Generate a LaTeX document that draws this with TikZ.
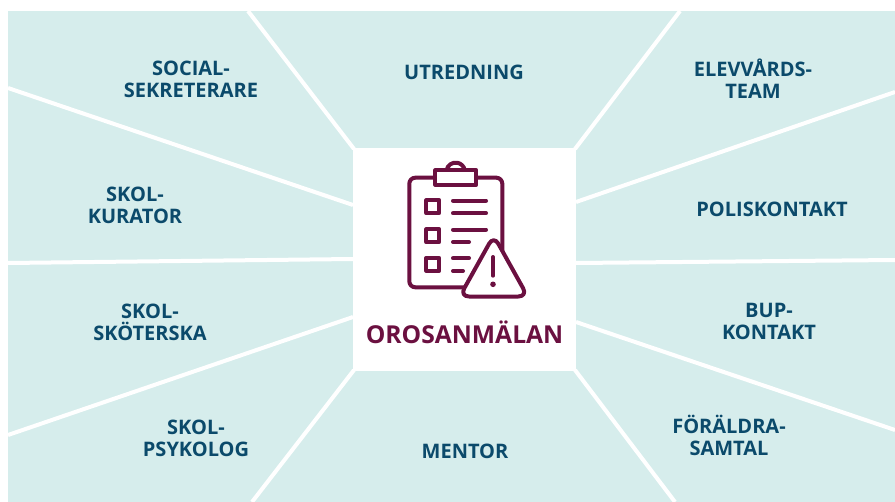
\documentclass[tikz,border=0pt]{standalone}
\usepackage{fontspec}
\setmainfont{Open Sans}
\definecolor{sectorbg}{HTML}{D6EDEC}
\definecolor{labelblue}{HTML}{0B4A6B}
\definecolor{winered}{HTML}{6B1040}

\begin{document}
\begin{tikzpicture}[x=0.75pt,y=-0.75pt,
  side node/.style={align=center,inner sep=0pt,text=labelblue,
    font=\fontsize{15}{16.5}\selectfont\bfseries},
  main node/.style={rectangle,fill=white,minimum width=167.25pt,minimum height=167.25pt},
  spoke/.style={draw=white,line width=3pt},
  icon line/.style={draw=winered,line width=3pt,line cap=round,line join=round}]
  \useasboundingbox (0,0) rectangle (895,502);
  \fill[sectorbg] (8,11) rectangle (895,502);

  \node[main node] (main) at (464.5,259.5) {};

  % spokes, clockwise from top left
  \coordinate (a1) at (248,11);    \coordinate (b1) at (354,149);
  \coordinate (a2) at (680,11);    \coordinate (b2) at (575,149);
  \coordinate (a3) at (895,92);    \coordinate (b3) at (576,202);
  \coordinate (a4) at (895,260);   \coordinate (b4) at (576,263);
  \coordinate (a5) at (895,430);   \coordinate (b5) at (576,322);
  \coordinate (a6) at (675,502);   \coordinate (b6) at (575,370);
  \coordinate (a7) at (252,502);   \coordinate (b7) at (354,370);
  \coordinate (a8) at (8,435);     \coordinate (b8) at (353,317);
  \coordinate (a9) at (8,263);     \coordinate (b9) at (353,259);
  \coordinate (a10) at (8,88);     \coordinate (b10) at (353,205);
  \foreach \i in {1,...,10}
    \draw[spoke] (a\i) -- (b\i);

  % clipboard
  \draw[icon line,rounded corners=4.5pt] (409.3,177.7) rectangle (502.3,287.3);
  \draw[icon line,fill=white] (446.5,170.3) arc[start angle=190,end angle=350,radius=9.3];
  \draw[icon line,fill=white] (435.3,170.3) rectangle (476.3,184.7);
  \draw[icon line,line cap=butt] (426.3,200.3) rectangle (439.3,213);
  \draw[icon line,line cap=butt] (426.3,229.3) rectangle (439.3,242);
  \draw[icon line,line cap=butt] (426.3,258) rectangle (439.3,270.7);
  \draw[icon line] (453,200.7) -- (486,200.7);
  \draw[icon line] (453,213.3) -- (486,213.3);
  \draw[icon line] (453,229.7) -- (486,229.7);
  \draw[icon line] (453,242) -- (469,242);
  \draw[icon line] (453,258.3) -- (469,258.3);
  \draw[icon line] (453,271) -- (463,271);

  % warning sign
  \draw[icon line,fill=white,rounded corners=7pt] (493.7,235.5) -- (527.7,296.5) -- (459.7,296.5) -- cycle;
  \draw[icon line] (493,257) -- (493,275.7);
  \fill[winered] (493,284.3) circle[radius=2.8];

  \node[inner sep=0pt,text=winered,font=\fontsize{18.5}{20}\selectfont\bfseries] (title) at (464.5,332) {OROSANMÄLAN};

  \node[side node] (1) at (191,79) {SOCIAL-\\SEKRETERARE};
  \node[side node] (2) at (464,72) {UTREDNING};
  \node[side node] (3) at (753,79) {ELEVVÅRDS-\\TEAM};
  \node[side node] (4) at (772,209) {POLISKONTAKT};
  \node[side node] (5) at (769,321) {BUP-\\KONTAKT};
  \node[side node] (6) at (729,435) {FÖRÄLDRA-\\SAMTAL};
  \node[side node] (7) at (465,451) {MENTOR};
  \node[side node] (8) at (196,438) {SKOL-\\PSYKOLOG};
  \node[side node] (9) at (150,322) {SKOL-\\SKÖTERSKA};
  \node[side node] (10) at (135,205) {SKOL-\\KURATOR};
\end{tikzpicture}
\end{document}
